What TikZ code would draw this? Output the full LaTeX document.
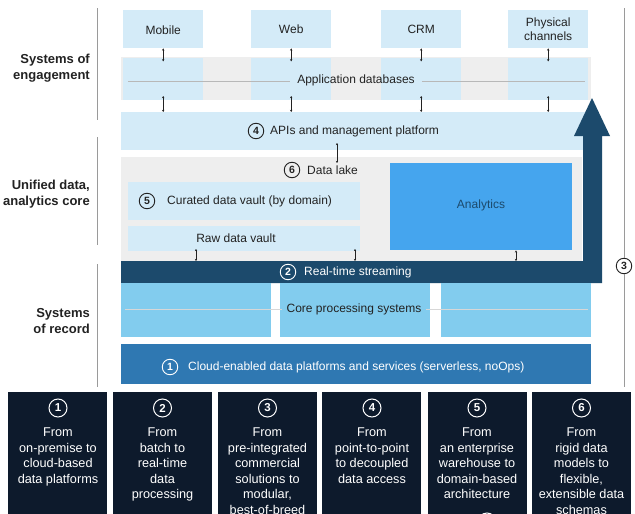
\documentclass[tikz,border=0pt]{standalone}
\usepackage{fontspec}
\setmainfont{Liberation Sans}
\usetikzlibrary{arrows.meta}
\definecolor{lb}{HTML}{D4EBF8}
\definecolor{gr}{HTML}{EEEEEE}
\definecolor{anl}{HTML}{45A5EE}
\definecolor{core}{HTML}{82CCEE}
\definecolor{cloud}{HTML}{2F78B2}
\definecolor{strm}{HTML}{1C4A6C}
\definecolor{navy}{HTML}{0D1A2C}
\definecolor{tx}{HTML}{222222}
\definecolor{ln}{HTML}{9A9A9A}
\tikzset{
  box/.style={draw=none, inner sep=0pt, anchor=north west, text=tx, font=\fontsize{12}{14}\selectfont},
  txt/.style={inner sep=0pt, text=tx, font=\fontsize{12}{14}\selectfont},
  lbl/.style={inner sep=0pt, text=tx, align=right, anchor=east, font=\fontsize{13}{16.5}\selectfont\bfseries},
  circ/.style={circle, draw=tx, line width=0.9pt, minimum size=15.5pt, inner sep=0pt, text=tx, font=\fontsize{10.5}{10.5}\selectfont\bfseries},
  wcirc/.style={circ, draw=white, text=white},
  bcirc/.style={circle, draw=white, line width=1pt, minimum size=18pt, inner sep=0pt, text=white, font=\fontsize{11.5}{11.5}\selectfont\bfseries},
  navybox/.style={fill=navy, inner sep=0pt, anchor=north west, minimum width=99pt, minimum height=140pt},
  btxt/.style={inner sep=0pt, anchor=north, align=center, text=white, font=\fontsize{12.7}{15.5}\selectfont},
  dbl/.style={{Stealth[length=2.2pt,width=2.4pt]}-{Stealth[length=2.2pt,width=2.4pt]}, line width=0.5pt, draw=tx},
  vline/.style={draw=ln, line width=0.6pt},
  hline/.style={draw=ln!70, line width=0.5pt}
}
\begin{document}
\begin{tikzpicture}[x=1pt,y=-1pt]
\useasboundingbox (0,0) rectangle (635,514);
\clip (0,0) rectangle (635,514);
\fill[white] (0,0) rectangle (635,514);

% left labels and lines
\node[lbl] (l1) at (90,68) {Systems of\\engagement};
\node[lbl] (l2) at (90,194) {Unified data,\\analytics core};
\node[lbl] (l3) at (90,321) {Systems\\of record};
\coordinate (a1) at (97,8);   \coordinate (a2) at (97,120);
\coordinate (b1) at (97,137); \coordinate (b2) at (97,245);
\coordinate (c1) at (97,264); \coordinate (c2) at (97,387);
\draw[vline] (a1) -- (a2);
\draw[vline] (b1) -- (b2);
\draw[vline] (c1) -- (c2);

% top channel boxes
\node[box, fill=lb, minimum width=80pt, minimum height=38pt] (mobile) at (123,10) {};
\node[txt] at ([yshift=-1pt]mobile.center) {Mobile};
\node[box, fill=lb, minimum width=80pt, minimum height=38pt] (web) at (251,10) {};
\node[txt] at (web.center) {Web};
\node[box, fill=lb, minimum width=80pt, minimum height=38pt] (crm) at (381,10) {};
\node[txt] at (crm.center) {CRM};
\node[box, fill=lb, minimum width=80pt, minimum height=38pt] (phys) at (508,10) {};
\node[txt, align=center] at (phys.center) {Physical\\channels};

% application databases
\node[box, fill=gr, minimum width=470pt, minimum height=43pt] (appdb) at (121,57) {};
\node[box, fill=lb, minimum width=80pt, minimum height=42pt] (db1) at (123,58) {};
\node[box, fill=lb, minimum width=80pt, minimum height=42pt] (db2) at (251,58) {};
\node[box, fill=lb, minimum width=80pt, minimum height=42pt] (db3) at (381,58) {};
\node[box, fill=lb, minimum width=80pt, minimum height=42pt] (db4) at (508,58) {};
\node[txt] (appdbt) at (356,80) {Application databases};
\coordinate (dbl1) at (128,81);
\coordinate (dbl2) at (585,81);
\draw[hline] (dbl1) -- ([xshift=-7pt]appdbt.west |- dbl1);
\draw[hline] ([xshift=7pt]appdbt.east |- dbl2) -- (dbl2);

% API band
\node[box, fill=lb, minimum width=470pt, minimum height=38pt] (api) at (121,112) {};
\node[circ] (c4) at (256,131) {4};
\node[txt, anchor=west] (apit) at (270,131) {APIs and management platform};

% arrows channel <-> db <-> api
\foreach \n in {mobile,web,crm,phys}{
  \draw[dbl] (\n.south) -- ++(0,13);
  \draw[dbl] (\n.south |- api.north) -- ++(0,-16);
}

% Data lake
\node[box, fill=gr, minimum width=461pt, minimum height=104pt] (lake) at (121,157) {};
\node[circ] (c6) at (292,170) {6};
\node[txt, anchor=west] (laket) at (307,170) {Data lake};
\coordinate (apiarr) at (337,143);
\draw[dbl] (apiarr) -- ++(0,20);

\node[box, fill=lb, minimum width=232pt, minimum height=38pt] (cur) at (128,182) {};
\node[circ] (c5) at (147,201) {5};
\node[txt, anchor=west] (curt) at (167,201) {Curated data vault (by domain)};
\node[box, fill=lb, minimum width=232pt, minimum height=25pt] (raw) at (128,226) {};
\node[txt] (rawt) at (236,238) {Raw data vault};

\node[box, fill=anl, minimum width=182pt, minimum height=87pt] (anal) at (390,163) {};
\node[txt, text=strm] (analt) at (481,205) {Analytics};

% streaming band + big arrow
\fill[strm] (121,283) -- (602,283) -- (602,136) -- (610,136) -- (592,98) -- (574,136)
  -- (583,136) -- (583,261) -- (121,261) -- cycle;
\coordinate (strmL) at (121,261);
\node[wcirc] (c2) at (288,272) {2};
\node[txt, anchor=west, text=white] (strmt) at (304,272) {Real-time streaming};

\draw[dbl] (196,249) coordinate (r1) -- (r1 |- strmL);
\draw[dbl] (355,249) coordinate (r2) -- (r2 |- strmL);
\draw[dbl] (anal.south -| 516,0) coordinate (r3) -- (r3 |- strmL);

% core processing systems
\node[box, fill=core, minimum width=150pt, minimum height=54pt] (core1) at (121,283) {};
\node[box, fill=core, minimum width=150pt, minimum height=54pt] (core2) at (280,283) {};
\node[box, fill=core, minimum width=150pt, minimum height=54pt] (core3) at (441,283) {};
\node[txt] (coret) at (354,309) {Core processing systems};
\coordinate (cl1) at (125,309);
\coordinate (cl2) at (588,309);
\draw[hline, draw=ln!40] (cl1) -- ([xshift=-4pt]coret.west |- cl1);
\draw[hline, draw=ln!40] ([xshift=4pt]coret.east |- cl2) -- (cl2);

% cloud band
\node[box, fill=cloud, minimum width=470pt, minimum height=40pt] (cloudb) at (121,344) {};
\node[wcirc] (c1) at (170,367) {1};
\node[txt, anchor=west, text=white] (cloudt) at (188,367) {Cloud-enabled data platforms and services (serverless, noOps)};

% right line with 3
\node[circ] (c3) at (624,266) {3};
\coordinate (rt) at (624,8);
\coordinate (rb) at (624,387);
\draw[vline] (rt) -- (c3.north);
\draw[vline] (c3.south) -- (rb);

% bottom boxes
\node[navybox] (n1) at (8,392) {};
\node[navybox] (n2) at (113,392) {};
\node[navybox] (n3) at (218,392) {};
\node[navybox] (n4) at (322,392) {};
\node[navybox] (n5) at (428,392) {};
\node[navybox] (n6) at (532,392) {};

\node[bcirc] (k1) at (58,408) {1};
\node[bcirc] (k2) at (162.5,408) {2};
\node[bcirc] (k3) at (267.5,408) {3};
\node[bcirc] (k4) at (372,408) {4};
\node[bcirc] (k5) at (477,408) {5};
\node[bcirc] (k6) at (581.5,408) {6};

\node[btxt] (t1) at (58,428) {From\\on-premise to\\cloud-based\\data platforms};
\node[btxt] (t2) at (162.5,428) {From\\batch to\\real-time\\data\\processing};
\node[btxt] (t3) at (267.5,428) {From\\pre-integrated\\commercial\\solutions to\\modular,\\best-of-breed};
\node[btxt] (t4) at (372,428) {From\\point-to-point\\to decoupled\\data access};
\node[btxt] (t5) at (477,428) {From\\an enterprise\\warehouse to\\domain-based\\architecture};
\node[btxt] (t6) at (581.5,428) {From\\rigid data\\models to\\flexible,\\extensible data\\schemas};
\node[bcirc] (k7) at (487,522) {};
\end{tikzpicture}
\end{document}
